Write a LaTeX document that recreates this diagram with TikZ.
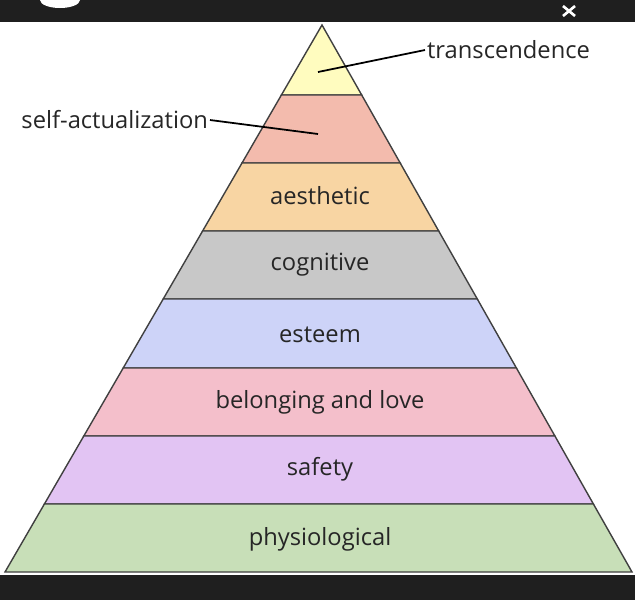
\documentclass[tikz,border=0pt]{standalone}
\usepackage{fontspec}
\setmainfont{Open Sans}
\begin{document}
\begin{tikzpicture}[x=0.02cm,y=-0.02cm,
  layer/.style={draw=black!75,line width=0.8pt},
  lbl/.style={font=\fontsize{13.5}{16}\selectfont,text=black!85},
  lead/.style={draw=black,line width=1pt}]
\useasboundingbox (0,0) rectangle (635,600);
\fill[white] (0,0) rectangle (635,600);
\fill[black!88] (0,0) rectangle (635,22);
\fill[black!88] (0,575) rectangle (635,600);
\fill[white] (60,0) ellipse (20 and 8);
\draw[white,line width=1.5pt] (563,6)--(575,16) (575,6)--(563,16);
\filldraw[layer,fill=yellow!25!white] (322,25)--(281.4,95)--(361.7,95)--cycle;
\filldraw[layer,fill={rgb,255:red,243;green,187;blue,173}] (281.4,95)--(242,163)--(400.2,163)--(361.7,95)--cycle;
\filldraw[layer,fill={rgb,255:red,248;green,213;blue,163}] (242,163)--(202.6,231)--(438.7,231)--(400.2,163)--cycle;
\filldraw[layer,fill={rgb,255:red,200;green,200;blue,200}] (202.6,231)--(163.2,299)--(477.3,299)--(438.7,231)--cycle;
\filldraw[layer,fill={rgb,255:red,205;green,211;blue,248}] (163.2,299)--(123.2,368)--(516.4,368)--(477.3,299)--cycle;
\filldraw[layer,fill={rgb,255:red,244;green,191;blue,203}] (123.2,368)--(83.8,436)--(554.9,436)--(516.4,368)--cycle;
\filldraw[layer,fill={rgb,255:red,226;green,196;blue,243}] (83.8,436)--(44.4,504)--(593.4,504)--(554.9,436)--cycle;
\filldraw[layer,fill={rgb,255:red,200;green,223;blue,184}] (44.4,504)--(5,572)--(632,572)--(593.4,504)--cycle;
\node[lbl] (aes) at (320,196) {aesthetic};
\node[lbl] (cog) at (320,265) {cognitive};
\node[lbl] (est) at (320,335) {esteem};
\node[lbl] (bel) at (320,402) {belonging and love};
\node[lbl] (saf) at (320,469) {safety};
\node[lbl] (phy) at (320,539) {physiological};
\node[lbl,anchor=west,inner sep=1pt] (tr) at (425,50) {transcendence};
\node[lbl,anchor=east,inner sep=1pt] (sa) at (210,120) {self-actualization};
\coordinate (trp) at (318,72);
\coordinate (sap) at (318,134);
\draw[lead] (tr.west) -- (trp);
\draw[lead] (sa.east) -- (sap);
\end{tikzpicture}
\end{document}
